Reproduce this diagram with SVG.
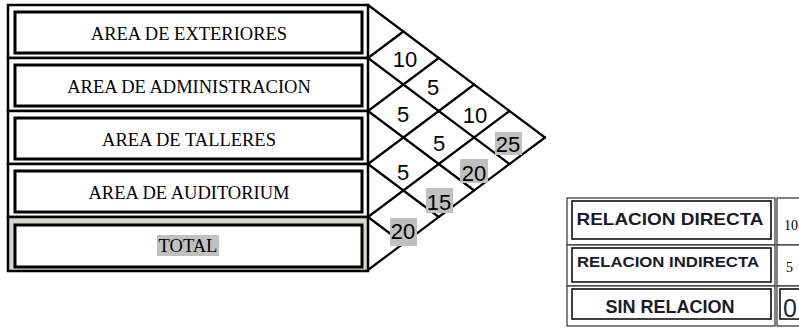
<svg xmlns="http://www.w3.org/2000/svg" width="799" height="328" viewBox="0 0 799 328">
<style>
.outer{fill:#fff;stroke:#000;stroke-width:2.5}
.inner{fill:#fff;stroke:#000;stroke-width:3}
.lbl{font-family:"Liberation Serif","Times New Roman",serif;font-size:18.5px;text-anchor:middle;fill:#000}
.num{font-family:"Liberation Sans",Arial,sans-serif;font-size:22px;text-anchor:middle;fill:#000}
.hl{fill:#c0c0c0}
.grid line{stroke:#000;stroke-width:2.2;stroke-linecap:round}
.louter{fill:#fff;stroke:#333;stroke-width:1.2}
.linner{fill:#fff;stroke:#111;stroke-width:1.6}
.leg{font-family:"Liberation Sans",Arial,sans-serif;font-weight:bold;fill:#1a1a2a;text-anchor:middle}
</style>
<rect width="799" height="328" fill="#fff"/>

<g id="row-exteriores">
<rect class="outer" x="8" y="5" width="360" height="53"/>
<rect class="inner" x="15" y="12" width="347" height="41"/>
<text class="lbl" x="189" y="40">AREA DE EXTERIORES</text>
</g>
<g id="row-administracion">
<rect class="outer" x="8" y="58" width="360" height="53"/>
<rect class="inner" x="15" y="65" width="347" height="41"/>
<text class="lbl" x="189" y="93">AREA DE ADMINISTRACION</text>
</g>
<g id="row-talleres">
<rect class="outer" x="8" y="111" width="360" height="53"/>
<rect class="inner" x="15" y="118" width="347" height="41"/>
<text class="lbl" x="189" y="146">AREA DE TALLERES</text>
</g>
<g id="row-auditorium">
<rect class="outer" x="8" y="164" width="360" height="53"/>
<rect class="inner" x="15" y="171" width="347" height="41"/>
<text class="lbl" x="189" y="199">AREA DE AUDITORIUM</text>
</g>
<g id="row-total">
<rect class="outer" x="8" y="217" width="360" height="54" style="fill:#d5d9c6"/>
<rect class="inner" x="15" y="225" width="347" height="42"/>
<rect class="hl" x="157" y="235" width="62" height="21"/>
<text class="lbl" x="188" y="252">TOTAL</text>
</g>

<g id="connectors" class="grid">
<line x1="368" y1="5" x2="545" y2="137.5"/>
<line x1="368" y1="58" x2="509.6" y2="164"/>
<line x1="368" y1="111" x2="474.2" y2="190.5"/>
<line x1="368" y1="164" x2="438.8" y2="217"/>
<line x1="368" y1="217" x2="403.4" y2="243.5"/>
<line x1="368" y1="58" x2="403.4" y2="31.5"/>
<line x1="368" y1="111" x2="438.8" y2="58"/>
<line x1="368" y1="164" x2="474.2" y2="84.5"/>
<line x1="368" y1="217" x2="509.6" y2="111"/>
<line x1="368" y1="270" x2="545" y2="137.5"/>
</g>

<g id="values">
<text class="num" x="405" y="67">10</text>
<text class="num" x="433" y="95">5</text>
<text class="num" x="403" y="122">5</text>
<text class="num" x="475" y="123">10</text>
<text class="num" x="439" y="151">5</text>
<rect class="hl" x="495" y="132" width="27" height="23"/>
<text class="num" x="508" y="152">25</text>
<text class="num" x="403" y="180">5</text>
<rect class="hl" x="460" y="159" width="28" height="24"/>
<text class="num" x="474" y="181">20</text>
<rect class="hl" x="426" y="188" width="27" height="25"/>
<text class="num" x="439" y="210">15</text>
<rect class="hl" x="390" y="218" width="27" height="28"/>
<text class="num" x="403" y="239">20</text>
</g>

<g id="legend">
<rect class="louter" x="567" y="198" width="208" height="47"/>
<rect class="linner" x="572" y="201" width="199" height="38"/>
<text class="leg" x="670" y="225" font-size="17" textLength="187" lengthAdjust="spacingAndGlyphs">RELACION DIRECTA</text>
<rect class="louter" x="567" y="245" width="208" height="41"/>
<rect class="linner" x="572" y="248" width="199" height="34"/>
<text class="leg" x="668" y="267" font-size="15" textLength="182" lengthAdjust="spacingAndGlyphs">RELACION INDIRECTA</text>
<rect class="louter" x="567" y="286" width="208" height="40"/>
<rect class="linner" x="572" y="289" width="199" height="30"/>
<text class="leg" x="670" y="313" font-size="18">SIN RELACION</text>
<rect class="louter" x="777" y="198" width="30" height="47"/>
<rect class="louter" x="777" y="245" width="30" height="41"/>
<rect class="louter" x="777" y="286" width="30" height="40"/>
<rect class="linner" x="780" y="289" width="24" height="30"/>
<text x="784" y="230" font-family="Liberation Serif,serif" font-size="14" fill="#000">10</text>
<text x="786" y="272" font-family="Liberation Serif,serif" font-size="14" fill="#000">5</text>
<text x="783" y="317" font-family="Liberation Sans,Arial,sans-serif" font-size="25" fill="#1f2340">0</text>
</g>
</svg>
